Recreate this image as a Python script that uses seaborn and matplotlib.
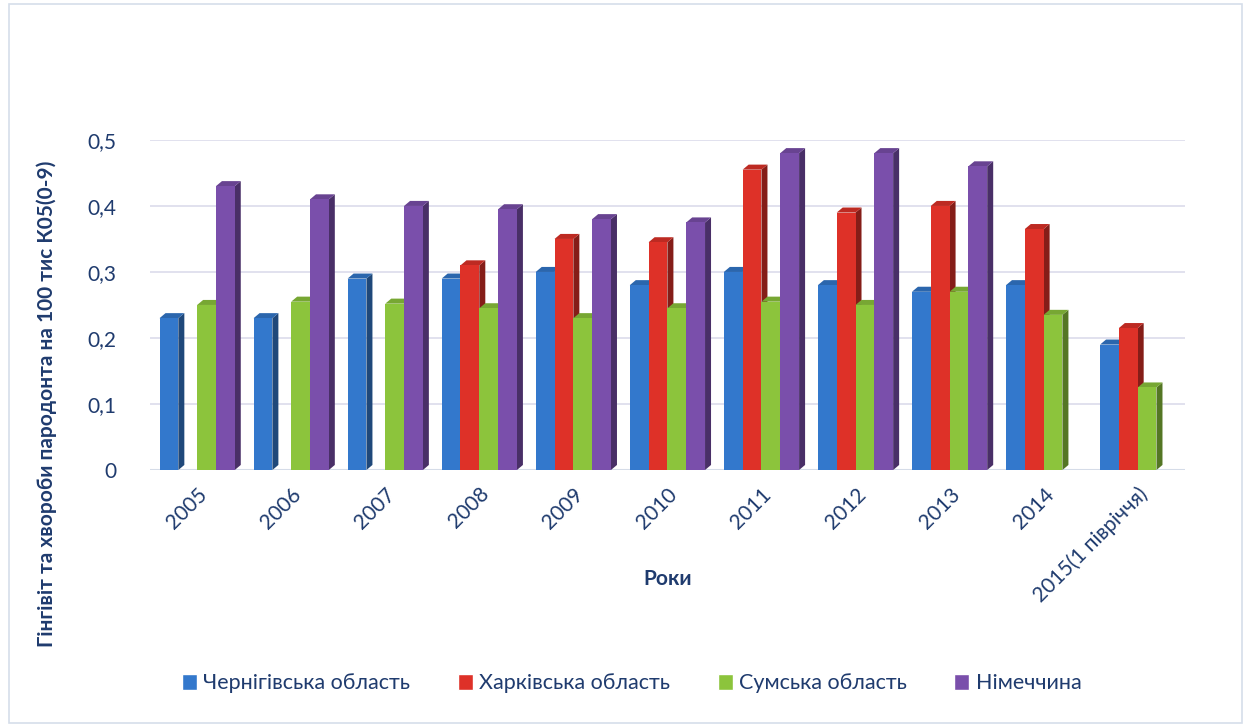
import numpy as np
import pandas as pd
import matplotlib
matplotlib.use("Agg")
import matplotlib.pyplot as plt
import matplotlib.colors as mcolors
from matplotlib.patches import Polygon, Rectangle
import seaborn as sns

years = ["2005", "2006", "2007", "2008", "2009", "2010", "2011", "2012",
         "2013", "2014", "2015(1 півріччя)"]
chernihiv = [0.23, 0.23, 0.29, 0.29, 0.30, 0.28, 0.30, 0.28, 0.27, 0.28, 0.19]
kharkiv = [np.nan, np.nan, np.nan, 0.31, 0.35, 0.345, 0.455, 0.39, 0.40, 0.365, 0.215]
sumy = [0.25, 0.255, 0.252, 0.245, 0.23, 0.245, 0.255, 0.25, 0.27, 0.235, 0.125]
germany = [0.43, 0.41, 0.40, 0.395, 0.38, 0.375, 0.48, 0.48, 0.46, np.nan, np.nan]

series_names = ["Чернігівська область", "Харківська область", "Сумська область", "Німеччина"]
colors = ["#3378CC", "#DE3128", "#8CC43C", "#7A4FAB"]
text_color = "#1F3B6E"

df = pd.DataFrame({"year": years, series_names[0]: chernihiv, series_names[1]: kharkiv,
                   series_names[2]: sumy, series_names[3]: germany})
long = df.melt(id_vars="year", var_name="region", value_name="value")

sns.set_style("white")
plt.rcParams["font.family"] = ["Lato", "DejaVu Sans"]

fig = plt.figure(figsize=(12.51, 7.27), dpi=100)
ax = fig.add_axes([0.12, 0.3535, 0.827, 0.454])

sns.barplot(data=long, x="year", y="value", hue="region", hue_order=series_names,
            palette=colors, width=0.8, dodge=True, saturation=1, ax=ax,
            legend=True, zorder=3, linewidth=0, edgecolor="none")

# pseudo 3D depth on each bar, derived from the drawn patches
dx_px, dy_px = 6, 5
inv = ax.transData.inverted()
for bar in ax.patches:
    h = bar.get_height()
    if not np.isfinite(h) or h <= 0 or bar.get_width() == 0:
        continue
    x0, w = bar.get_x(), bar.get_width()
    fc = mcolors.to_rgb(bar.get_facecolor())
    p0 = ax.transData.transform((0, 0))
    p1 = inv.transform((p0[0] + dx_px, p0[1] + dy_px))
    ddx, ddy = p1[0], p1[1]
    side = [(x0 + w, 0), (x0 + w + ddx, ddy), (x0 + w + ddx, h + ddy), (x0 + w, h)]
    top = [(x0, h), (x0 + ddx, h + ddy), (x0 + w + ddx, h + ddy), (x0 + w, h)]
    dark = tuple(c * 0.6 for c in fc)
    light = tuple(min(1, c * 0.85) for c in fc)
    ax.add_patch(Polygon(side, closed=True, facecolor=dark, edgecolor="none", zorder=2.9))
    ax.add_patch(Polygon(top, closed=True, facecolor=light, edgecolor="none", zorder=2.9))

ax.set_ylim(0, 0.5)
ax.set_xlim(-0.5, len(years) - 0.5)
ticks = [0, 0.1, 0.2, 0.3, 0.4, 0.5]
ax.set_yticks(ticks)
ax.set_yticklabels(["0" if t == 0 else f"{t:.1f}".replace(".", ",") for t in ticks],
                   fontsize=15, color=text_color)
ax.tick_params(axis="y", length=0, pad=24)
ax.tick_params(axis="x", length=0, pad=10)
ax.set_xticks(range(len(years)))
ax.set_xticklabels(years, rotation=45, ha="right", rotation_mode="anchor",
                   fontsize=15, color=text_color)
ax.yaxis.grid(True, color="#DCDCEB", linewidth=1.2, zorder=0)
for s in ax.spines.values():
    s.set_visible(False)
ax.axhline(0, color="#D5DCE8", linewidth=1.5, zorder=1)

ax.set_xlabel("Роки", fontsize=15, fontweight="bold", color=text_color)
ax.xaxis.set_label_coords(0.5, -0.30)
ax.set_ylabel("Гінгівіт та хвороби пародонта на 100 тис К05(0-9)", fontsize=15,
              fontweight="bold", color=text_color)
ax.yaxis.set_label_coords(-0.09, 0.2)

ax.legend_.remove()
handles = [Rectangle((0, 0), 1, 1, facecolor=c) for c in colors]
leg = fig.legend(handles, series_names, loc="center", bbox_to_anchor=(0.505, 0.06),
                 ncol=4, frameon=False, fontsize=15.5, handlelength=0.7,
                 handleheight=0.8, handletextpad=0.3, columnspacing=2.2)
for t in leg.get_texts():
    t.set_color(text_color)

fig.patches.append(Rectangle((0.007, 0.006), 0.986, 0.988, transform=fig.transFigure,
                             fill=False, edgecolor="#D6DEEA", linewidth=1.2))

fig.savefig("out.png", dpi=100)
